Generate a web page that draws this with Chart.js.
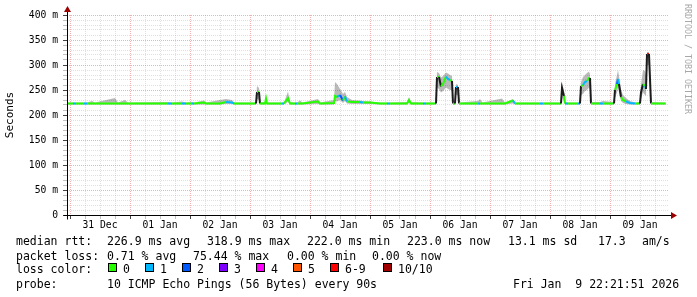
<!DOCTYPE html>
<html>
<head>
<meta charset="utf-8">
<script src="https://cdn.jsdelivr.net/npm/chart.js@4/dist/chart.umd.min.js"></script>
<style>
  html, body { margin: 0; padding: 0; background: #fff; }
  #wrap { position: relative; width: 697px; height: 297px; overflow: hidden; }
  #chart { position: absolute; left: 0; top: 0; }
  .txt { position: absolute; font-family: "DejaVu Sans Mono", monospace; font-size: 11.5px; line-height: 14px; color: #000; white-space: pre; }
  .sq { position: absolute; width: 9px; height: 9px; box-sizing: border-box; border: 1px solid #000; top: 263px; }
  #credit { position: absolute; left: 683px; top: 4px; writing-mode: vertical-rl; font-family: "DejaVu Sans Mono", monospace; font-size: 8.3px; color: #a8a8a8; white-space: pre; }
</style>
</head>
<body>
<div id="wrap">
  <canvas id="chart" width="697" height="297"></canvas>
  <div id="credit">RRDTOOL / TOBI OETIKER</div>
  <div id="legend"></div>
</div>
<script>
// hours since 31 Dec 00:00
const hours = [
  -1.2, 1.2, 2.4, 5.6, 6.8, 8.8, 10, 18, 19.2, 22, 23.2, 39.2, 40.8, 44.8, 46.4, 48.8, 49.6,
  53.6, 54.4, 60, 62.4, 64.8, 65.6, 74.4, 74.8, 75.6, 76, 78, 78.4, 78.8, 84.8, 85.6, 87.2, 88,
  90, 90.8, 92, 93, 99.2, 100, 105.6, 106, 106.8, 108, 109.2, 110, 110.8, 112.8, 116, 117.2, 120,
  124, 126.8, 128, 134.8, 135.6, 136.4, 141.2, 142.4, 146.4, 146.8, 147.6, 148.4, 149.2, 150.4,
  151.2, 152, 152.8, 153.2, 154, 154.4, 155.2, 155.6, 163.2, 164, 165, 172.8, 174, 177.2, 178,
  188, 189.2, 196.4, 196.8, 197.6, 198, 199.2, 203.2, 204, 204.4, 205.2, 206, 206.8, 207.6, 208,
  208.4, 212, 213.2, 217.6, 218, 218.8, 219.2, 219.6, 220.4, 221.2, 222.4, 224, 226, 228, 228.4,
  229.2, 230, 230.4, 230.8, 231.6, 232, 232.4, 238.3
];
// median rtt in ms
const median = [
  223, 223, 223, 223, 223, 223, 223, 223, 223, 223, 223, 223, 223, 223, 223, 223, 223,
  225, 223, 223, 226, 225, 223, 223, 246, 246, 223, 223, 233, 223, 223, 223, 234, 223,
  223, 223, 223, 223, 227, 223, 224, 238, 236, 240, 229, 237, 227, 226, 226, 225, 225,
  223, 223, 223, 223, 230, 223, 223, 223, 223, 276, 276, 257, 262, 277,
  272, 270, 268, 223, 223, 256, 256, 223, 223, 223, 223, 223, 223, 229, 223,
  223, 223, 223, 254, 238, 223, 223, 223, 223, 258, 260, 266, 268, 274, 274,
  223, 223, 223, 223, 250, 262, 272, 262, 236, 230, 227, 224, 223, 223, 245,
  262, 258, 252, 322, 322, 272, 223, 223
];
// lost pings out of 10
const loss = [
  0, 1, 0, 1, 0, 0, 0, 0, 0, 0, 0, 1, 0, 1, 0, 1, 0,
  0, 0, 0, 1, 1, 0, 0, 0, 0, 0, 0, 0, 0, 1, 0, 0, 0,
  1, 0, 0, 0, 0, 0, 0, 0, 1, 2, 0, 1, 0, 0, 1, 0, 0,
  0, 1, 0, 0, 0, 0, 1, 0, 0, 0, 1, 0, 0, 1,
  1, 0, 0, 0, 0, 1, 0, 0, 1, 0, 0, 0, 0, 1, 0,
  1, 0, 0, 0, 0, 1, 0, 1, 0, 0, 1, 1, 0, 0, 0,
  0, 1, 0, 0, 0, 2, 1, 0, 0, 0, 1, 1, 0, 0, 0,
  0, 1, 0, 6, 6, 4, 0, 0
];
// smoke: lowest and highest ping in ms
const smokeLow = [
  221, 221, 221, 221, 221, 221, 221, 221, 221, 221, 221, 221, 221, 221, 221, 221, 221,
  221, 221, 221, 222, 222, 221, 221, 232, 230, 221, 221, 225, 221, 221, 221, 226, 221,
  221, 221, 221, 221, 222, 221, 221, 228, 227, 230, 224, 228, 223, 222, 222, 222, 222,
  221, 221, 221, 221, 224, 221, 221, 221, 221, 255, 252, 245, 248, 255,
  252, 250, 250, 221, 221, 240, 240, 221, 221, 221, 221, 221, 221, 223, 221,
  221, 221, 221, 235, 228, 221, 221, 221, 221, 240, 242, 248, 250, 255, 250,
  221, 221, 221, 221, 235, 245, 255, 245, 228, 224, 222, 221, 221, 221, 232,
  245, 240, 238, 300, 300, 250, 221, 221
];
const smokeHigh = [
  225, 225, 225, 225, 225, 228, 225, 234, 225, 230, 225, 226, 225, 227, 225, 226, 225,
  229, 225, 230, 232, 230, 225, 225, 258, 254, 226, 226, 242, 225, 225, 225, 247, 226,
  225, 225, 229, 225, 232, 225, 230, 266, 262, 252, 242, 246, 236, 230, 229, 228, 227,
  225, 225, 225, 226, 236, 226, 225, 225, 225, 286, 284, 275, 278, 285,
  283, 280, 278, 226, 226, 262, 260, 225, 228, 232, 225, 233, 225, 232, 225,
  225, 225, 225, 266, 248, 226, 225, 225, 225, 266, 276, 280, 284, 287, 282,
  226, 226, 228, 226, 262, 280, 290, 278, 250, 240, 234, 228, 225, 226, 262,
  290, 288, 280, 326, 326, 290, 226, 225
];
const lossColors = ['#26ff00', '#00b8ff', '#0059ff', '#7e00ff', '#ff00ff', '#ff5500', '#ff0000', '#ff0000', '#ff0000', '#ff0000', '#a10000'];
const lossLabels = ['0', '1', '2', '3', '4', '5', '6-9', '10/10'];
const lossLegendColors = ['#26ff00', '#00b8ff', '#0059ff', '#7e00ff', '#ff00ff', '#ff5500', '#ff0000', '#a10000'];
const dayLabels = ['31 Dec', '01 Jan', '02 Jan', '03 Jan', '04 Jan', '05 Jan', '06 Jan', '07 Jan', '08 Jan', '09 Jan'];

(function () {
  'use strict';

  const axisFont = { family: 'DejaVu Sans Mono', size: 9.7 };
  const majorGrid = 'rgba(230, 100, 100, 0.5)';
  const minorGrid = 'rgba(160, 160, 160, 0.33)';

  function points(values) {
    return hours.map((h, i) => ({ x: h, y: values[i] }));
  }

  const axisArrows = {
    id: 'axisArrows',
    afterDraw(chart) {
      const { ctx, chartArea: a } = chart;
      const x0 = Math.round(a.left) + 0.5;
      const y0 = Math.round(a.bottom) + 0.5;
      ctx.save();
      ctx.strokeStyle = '#000';
      ctx.lineWidth = 1;
      ctx.beginPath();
      ctx.moveTo(x0 - 4, y0);
      ctx.lineTo(a.right + 4, y0);
      ctx.moveTo(x0, y0 + 4);
      ctx.lineTo(x0, a.top - 4);
      ctx.stroke();
      ctx.fillStyle = '#9b0000';
      ctx.beginPath();
      ctx.moveTo(a.right + 3, y0 - 3.5);
      ctx.lineTo(a.right + 9, y0);
      ctx.lineTo(a.right + 3, y0 + 3.5);
      ctx.fill();
      ctx.beginPath();
      ctx.moveTo(x0 - 3.5, a.top - 3);
      ctx.lineTo(x0, a.top - 9);
      ctx.lineTo(x0 + 3.5, a.top - 3);
      ctx.fill();
      ctx.restore();
    }
  };

  new Chart(document.getElementById('chart'), {
    type: 'line',
    data: {
      datasets: [
        {
          label: 'median',
          data: points(median),
          borderWidth: 2,
          pointRadius: 0,
          tension: 0,
          fill: false,
          order: 0,
          segment: {
            borderColor: (ctx) => {
              const i = ctx.p0DataIndex;
              if (Math.abs(median[i + 1] - median[i]) > 15) return '#1c1c1c';
              return lossColors[loss[i]];
            }
          }
        },
        {
          label: 'smoke high',
          data: points(smokeHigh),
          borderWidth: 0,
          pointRadius: 0,
          tension: 0,
          backgroundColor: 'rgba(40, 40, 40, 0.32)',
          fill: '+1',
          order: 1
        },
        {
          label: 'smoke low',
          data: points(smokeLow),
          borderWidth: 0,
          pointRadius: 0,
          tension: 0,
          fill: false,
          order: 2
        }
      ]
    },
    options: {
      responsive: false,
      animation: false,
      events: [],
      layout: { padding: { left: 0, top: 15, right: 29, bottom: 60 } },
      plugins: { legend: { display: false }, tooltip: { enabled: false } },
      scales: {
        x: {
          type: 'linear',
          min: -1.2,
          max: 239.2,
          afterFit: (scale) => { scale.height = 22; },
          afterBuildTicks: (scale) => {
            const ticks = [];
            for (let h = 0; h <= 234; h += 6) ticks.push({ value: h });
            scale.ticks = ticks;
          },
          border: { display: false, dash: [1, 1] },
          grid: {
            color: (ctx) => (ctx.tick && ctx.tick.value % 24 === 0 ? majorGrid : minorGrid),
            tickColor: (ctx) => (ctx.tick && ctx.tick.value % 24 === 0 ? '#444' : 'rgba(150,150,150,0.6)'),
            tickLength: 4
          },
          ticks: {
            autoSkip: false,
            maxRotation: 0,
            padding: 1,
            color: '#000',
            font: axisFont,
            callback: (v) => (v % 24 === 12 ? dayLabels[(v - 12) / 24] : '')
          }
        },
        y: {
          min: 0,
          max: 400,
          afterFit: (scale) => { scale.width = 67; },
          border: { display: false, dash: [1, 1] },
          grid: {
            color: (ctx) => (ctx.tick && ctx.tick.value % 50 === 0 ? majorGrid : minorGrid),
            tickColor: (ctx) => (ctx.tick && ctx.tick.value % 50 === 0 ? '#444' : 'rgba(150,150,150,0.6)'),
            tickLength: 4
          },
          ticks: {
            stepSize: 10,
            autoSkip: false,
            padding: 5,
            color: '#000',
            font: axisFont,
            callback: (v) => (v % 50 === 0 ? (v === 0 ? '0' : v + ' m') : '')
          },
          title: {
            display: true,
            text: 'Seconds',
            color: '#000',
            font: { family: 'DejaVu Sans Mono', size: 11 },
            padding: { top: 4, bottom: 0 }
          }
        }
      }
    },
    plugins: [axisArrows]
  });

  // legend rows, placed the way rrdtool spaces its GPRINT items
  const legendItems = [
    [16, 234, 'median rtt:'], [107, 234, '226.9 ms avg'], [207, 234, '318.9 ms max'],
    [307, 234, '222.0 ms min'], [407, 234, '223.0 ms now'], [508, 234, '13.1 ms sd'],
    [598, 234, '17.3'], [642, 234, 'am/s'],
    [16, 248.5, 'packet loss:'], [107, 248.5, '0.71 % avg'], [193, 248.5, '75.44 % max'],
    [287, 248.5, '0.00 % min'], [372, 248.5, '0.00 % now'],
    [16, 262, 'loss color:'],
    [16, 276.5, 'probe:'], [107, 276.5, '10 ICMP Echo Pings (56 Bytes) every 90s'],
    [513, 276.5, 'Fri Jan  9 22:21:51 2026']
  ];
  const squareLeft = [108, 145, 182, 219, 256, 293, 330, 383];
  const legend = document.getElementById('legend');
  legendItems.forEach(([left, top, text]) => {
    const el = document.createElement('div');
    el.className = 'txt';
    el.style.left = left + 'px';
    el.style.top = top + 'px';
    el.textContent = text;
    legend.appendChild(el);
  });
  lossLabels.forEach((label, i) => {
    const sq = document.createElement('div');
    sq.className = 'sq';
    sq.style.left = squareLeft[i] + 'px';
    sq.style.background = lossLegendColors[i];
    legend.appendChild(sq);
    const el = document.createElement('div');
    el.className = 'txt';
    el.style.left = (squareLeft[i] + 15) + 'px';
    el.style.top = '262px';
    el.textContent = label;
    legend.appendChild(el);
  });
})();
</script>
</body>
</html>
